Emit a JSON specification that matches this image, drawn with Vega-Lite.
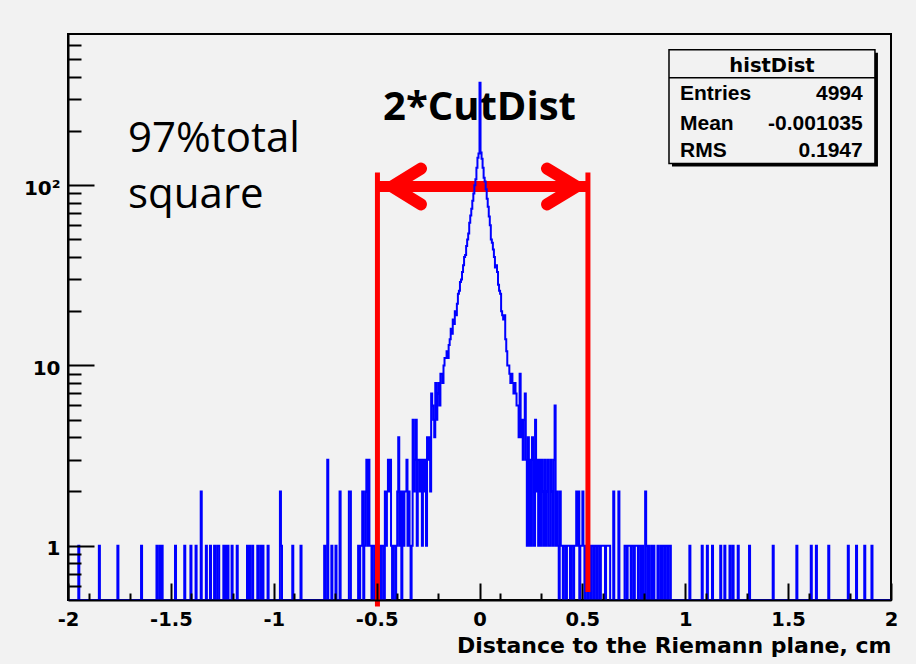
{
  "$schema": "https://vega.github.io/schema/vega-lite/v6.json",
  "width": 823,
  "height": 566,
  "autosize": {"type": "none"},
  "padding": {"left": 68, "top": 34, "right": 25, "bottom": 64},
  "background": "#f2f2f2",
  "config": {"view": {"stroke": "#000000", "strokeWidth": 2}, "axis": {"grid": false, "labelOverlap": false}},
  "datasets": {
    "one": [{}],
    "hist": [
      {"x":-2,"n":0},{"x":-1.95,"n":1},{"x":-1.945,"n":0},{"x":-1.85,"n":1},{"x":-1.845,"n":0},{"x":-1.76,"n":1},{"x":-1.755,"n":0},
      {"x":-1.645,"n":1},{"x":-1.64,"n":0},{"x":-1.57,"n":1},{"x":-1.565,"n":0},{"x":-1.555,"n":1},{"x":-1.55,"n":0},{"x":-1.545,"n":1},{"x":-1.54,"n":0},
      {"x":-1.48,"n":1},{"x":-1.475,"n":0},{"x":-1.435,"n":1},{"x":-1.43,"n":0},{"x":-1.405,"n":1},{"x":-1.4,"n":0},{"x":-1.38,"n":1},{"x":-1.375,"n":0},
      {"x":-1.355,"n":2},{"x":-1.35,"n":0},{"x":-1.33,"n":1},{"x":-1.325,"n":0},{"x":-1.31,"n":1},{"x":-1.305,"n":0},{"x":-1.29,"n":1},{"x":-1.285,"n":0},
      {"x":-1.275,"n":1},{"x":-1.27,"n":1},{"x":-1.265,"n":0},{"x":-1.245,"n":1},{"x":-1.24,"n":0},{"x":-1.235,"n":1},{"x":-1.23,"n":0},{"x":-1.225,"n":1},{"x":-1.22,"n":0},
      {"x":-1.205,"n":1},{"x":-1.2,"n":0},{"x":-1.18,"n":1},{"x":-1.175,"n":0},{"x":-1.13,"n":1},{"x":-1.125,"n":0},{"x":-1.12,"n":1},{"x":-1.115,"n":0},
      {"x":-1.105,"n":1},{"x":-1.1,"n":0},{"x":-1.08,"n":1},{"x":-1.075,"n":0},{"x":-1.065,"n":1},{"x":-1.06,"n":0},{"x":-1.055,"n":1},{"x":-1.05,"n":0},
      {"x":-1.03,"n":1},{"x":-1.025,"n":0},{"x":-0.97,"n":2},{"x":-0.965,"n":1},{"x":-0.96,"n":0},{"x":-0.91,"n":1},{"x":-0.905,"n":0},{"x":-0.87,"n":1},{"x":-0.865,"n":0},
      {"x":-0.755,"n":1},{"x":-0.75,"n":0},{"x":-0.74,"n":3},{"x":-0.735,"n":0},{"x":-0.72,"n":1},{"x":-0.715,"n":0},{"x":-0.7,"n":1},{"x":-0.695,"n":0},
      {"x":-0.68,"n":2},{"x":-0.675,"n":0},{"x":-0.635,"n":2},{"x":-0.63,"n":2},{"x":-0.625,"n":0},
      {"x":-0.59,"n":1},{"x":-0.585,"n":0},{"x":-0.58,"n":1},{"x":-0.575,"n":1},{"x":-0.57,"n":2},{"x":-0.565,"n":0},{"x":-0.56,"n":1},{"x":-0.555,"n":2},
      {"x":-0.55,"n":3},{"x":-0.545,"n":1},{"x":-0.54,"n":3},{"x":-0.535,"n":1},{"x":-0.53,"n":1},{"x":-0.525,"n":0},{"x":-0.52,"n":1},{"x":-0.515,"n":1},
      {"x":-0.51,"n":0},{"x":-0.505,"n":1},{"x":-0.5,"n":1},{"x":-0.495,"n":0},{"x":-0.49,"n":1},{"x":-0.485,"n":1},{"x":-0.48,"n":0},{"x":-0.475,"n":1},
      {"x":-0.47,"n":1},{"x":-0.465,"n":0},{"x":-0.46,"n":2},{"x":-0.455,"n":1},{"x":-0.45,"n":2},{"x":-0.445,"n":3},{"x":-0.44,"n":2},{"x":-0.435,"n":3},
      {"x":-0.43,"n":1},{"x":-0.425,"n":0},{"x":-0.42,"n":1},{"x":-0.415,"n":1},{"x":-0.41,"n":0},{"x":-0.405,"n":1},{"x":-0.4,"n":2},{"x":-0.395,"n":4},
      {"x":-0.39,"n":1},{"x":-0.385,"n":2},{"x":-0.38,"n":0},{"x":-0.375,"n":2},{"x":-0.37,"n":1},{"x":-0.365,"n":2},{"x":-0.36,"n":2},{"x":-0.355,"n":3},
      {"x":-0.35,"n":1},{"x":-0.345,"n":2},{"x":-0.34,"n":1},{"x":-0.335,"n":0},{"x":-0.33,"n":1},{"x":-0.325,"n":5},{"x":-0.32,"n":2},{"x":-0.315,"n":3},
      {"x":-0.31,"n":5},{"x":-0.305,"n":1},{"x":-0.3,"n":3},{"x":-0.295,"n":3},{"x":-0.29,"n":2},{"x":-0.285,"n":3},{"x":-0.28,"n":1},{"x":-0.275,"n":3},
      {"x":-0.27,"n":2},{"x":-0.265,"n":3},{"x":-0.26,"n":1},{"x":-0.255,"n":4},{"x":-0.25,"n":3},{"x":-0.245,"n":4},{"x":-0.24,"n":2},{"x":-0.235,"n":7},
      {"x":-0.23,"n":6},{"x":-0.225,"n":5},{"x":-0.22,"n":4},{"x":-0.215,"n":8},{"x":-0.21,"n":5},{"x":-0.205,"n":7},{"x":-0.2,"n":8},{"x":-0.195,"n":6},
      {"x":-0.19,"n":9},{"x":-0.185,"n":9},{"x":-0.18,"n":8},{"x":-0.175,"n":10},{"x":-0.17,"n":11},{"x":-0.165,"n":11},{"x":-0.16,"n":12},{"x":-0.155,"n":11},
      {"x":-0.15,"n":13},{"x":-0.145,"n":14},{"x":-0.14,"n":16},{"x":-0.135,"n":15},{"x":-0.13,"n":18},{"x":-0.125,"n":17},{"x":-0.12,"n":20},{"x":-0.115,"n":19},
      {"x":-0.11,"n":22},{"x":-0.105,"n":25},{"x":-0.1,"n":26},{"x":-0.095,"n":29},{"x":-0.09,"n":30},{"x":-0.085,"n":33},{"x":-0.08,"n":36},{"x":-0.075,"n":40},
      {"x":-0.07,"n":41},{"x":-0.065,"n":46},{"x":-0.06,"n":50},{"x":-0.055,"n":54},{"x":-0.05,"n":62},{"x":-0.045,"n":68},{"x":-0.04,"n":74},{"x":-0.035,"n":82},
      {"x":-0.03,"n":90},{"x":-0.025,"n":100},{"x":-0.02,"n":108},{"x":-0.015,"n":125},{"x":-0.01,"n":142},{"x":-0.005,"n":150},
      {"x":0,"n":370},{"x":0.005,"n":152},{"x":0.01,"n":140},{"x":0.015,"n":125},{"x":0.02,"n":110},{"x":0.025,"n":105},{"x":0.03,"n":95},{"x":0.035,"n":84},
      {"x":0.04,"n":76},{"x":0.045,"n":67},{"x":0.05,"n":60},{"x":0.055,"n":50},{"x":0.06,"n":48},{"x":0.065,"n":44},{"x":0.07,"n":40},{"x":0.075,"n":35},
      {"x":0.08,"n":36},{"x":0.085,"n":33},{"x":0.09,"n":28},{"x":0.095,"n":26},{"x":0.1,"n":25},{"x":0.105,"n":20},{"x":0.11,"n":19},{"x":0.115,"n":18},
      {"x":0.12,"n":19},{"x":0.125,"n":14},{"x":0.13,"n":12},{"x":0.135,"n":10},{"x":0.14,"n":10},{"x":0.145,"n":9},{"x":0.15,"n":8},{"x":0.155,"n":9},
      {"x":0.16,"n":8},{"x":0.165,"n":7},{"x":0.17,"n":8},{"x":0.175,"n":7},{"x":0.18,"n":6},{"x":0.185,"n":6},{"x":0.19,"n":4},{"x":0.195,"n":9},
      {"x":0.2,"n":4},{"x":0.205,"n":5},{"x":0.21,"n":3},{"x":0.215,"n":5},{"x":0.22,"n":7},{"x":0.225,"n":3},{"x":0.23,"n":1},{"x":0.235,"n":4},
      {"x":0.24,"n":1},{"x":0.245,"n":3},{"x":0.25,"n":1},{"x":0.255,"n":4},{"x":0.26,"n":3},{"x":0.265,"n":1},{"x":0.27,"n":5},{"x":0.275,"n":2},
      {"x":0.28,"n":3},{"x":0.285,"n":1},{"x":0.29,"n":3},{"x":0.295,"n":1},{"x":0.3,"n":3},{"x":0.305,"n":2},{"x":0.31,"n":1},{"x":0.315,"n":3},
      {"x":0.32,"n":1},{"x":0.325,"n":2},{"x":0.33,"n":3},{"x":0.335,"n":1},{"x":0.34,"n":1},{"x":0.345,"n":3},{"x":0.35,"n":2},{"x":0.355,"n":1},
      {"x":0.36,"n":3},{"x":0.365,"n":6},{"x":0.37,"n":1},{"x":0.375,"n":2},{"x":0.38,"n":1},{"x":0.385,"n":0},{"x":0.39,"n":2},{"x":0.395,"n":1},
      {"x":0.4,"n":1},{"x":0.405,"n":0},{"x":0.41,"n":1},{"x":0.415,"n":1},{"x":0.42,"n":0},{"x":0.425,"n":1},{"x":0.43,"n":1},{"x":0.435,"n":1},
      {"x":0.44,"n":0},{"x":0.445,"n":1},{"x":0.45,"n":1},{"x":0.455,"n":0},{"x":0.46,"n":1},{"x":0.465,"n":1},{"x":0.47,"n":2},{"x":0.475,"n":1},
      {"x":0.48,"n":2},{"x":0.485,"n":0},{"x":0.49,"n":1},{"x":0.495,"n":1},{"x":0.5,"n":2},{"x":0.505,"n":1},{"x":0.51,"n":0},{"x":0.515,"n":1},
      {"x":0.52,"n":1},{"x":0.525,"n":0},{"x":0.53,"n":1},{"x":0.535,"n":1},{"x":0.54,"n":0},{"x":0.545,"n":1},{"x":0.55,"n":1},{"x":0.555,"n":0},
      {"x":0.56,"n":1},{"x":0.565,"n":1},{"x":0.57,"n":0},{"x":0.575,"n":1},{"x":0.58,"n":1},{"x":0.585,"n":0},{"x":0.59,"n":1},{"x":0.595,"n":1},
      {"x":0.6,"n":1},{"x":0.605,"n":1},{"x":0.61,"n":0},{"x":0.615,"n":1},{"x":0.62,"n":1},{"x":0.625,"n":1},{"x":0.63,"n":1},{"x":0.635,"n":0},
      {"x":0.65,"n":2},{"x":0.655,"n":0},{"x":0.675,"n":2},{"x":0.68,"n":0},{"x":0.705,"n":1},{"x":0.71,"n":1},{"x":0.715,"n":0},{"x":0.72,"n":1},
      {"x":0.725,"n":1},{"x":0.73,"n":1},{"x":0.735,"n":0},{"x":0.74,"n":1},{"x":0.745,"n":1},{"x":0.75,"n":0},{"x":0.755,"n":1},{"x":0.76,"n":1},
      {"x":0.765,"n":1},{"x":0.77,"n":0},{"x":0.775,"n":1},{"x":0.78,"n":1},{"x":0.785,"n":0},{"x":0.79,"n":1},{"x":0.795,"n":0},{"x":0.805,"n":2},
      {"x":0.81,"n":1},{"x":0.815,"n":0},{"x":0.82,"n":1},{"x":0.825,"n":0},{"x":0.835,"n":1},{"x":0.84,"n":0},{"x":0.845,"n":1},{"x":0.85,"n":0},
      {"x":0.865,"n":1},{"x":0.87,"n":0},{"x":0.88,"n":1},{"x":0.885,"n":0},{"x":0.89,"n":1},{"x":0.895,"n":1},{"x":0.9,"n":0},{"x":0.905,"n":1},
      {"x":0.91,"n":1},{"x":0.915,"n":0},{"x":0.92,"n":1},{"x":0.925,"n":1},{"x":0.93,"n":0},
      {"x":1.02,"n":1},{"x":1.025,"n":0},{"x":1.08,"n":1},{"x":1.085,"n":0},{"x":1.105,"n":1},{"x":1.11,"n":0},{"x":1.13,"n":1},{"x":1.135,"n":0},
      {"x":1.17,"n":1},{"x":1.175,"n":0},{"x":1.19,"n":1},{"x":1.195,"n":0},{"x":1.215,"n":1},{"x":1.22,"n":0},{"x":1.23,"n":1},{"x":1.235,"n":0},
      {"x":1.255,"n":1},{"x":1.26,"n":0},{"x":1.31,"n":1},{"x":1.315,"n":0},{"x":1.425,"n":1},{"x":1.43,"n":0},{"x":1.54,"n":1},{"x":1.545,"n":0},
      {"x":1.61,"n":1},{"x":1.615,"n":0},{"x":1.635,"n":1},{"x":1.64,"n":0},{"x":1.695,"n":1},{"x":1.7,"n":0},{"x":1.79,"n":1},{"x":1.795,"n":0},
      {"x":1.83,"n":1},{"x":1.835,"n":0},{"x":1.87,"n":1},{"x":1.875,"n":0},{"x":1.905,"n":1},{"x":1.91,"n":0},{"x":2,"n":0}
    ],
    "heads": [
      {"g":"L","o":1,"x":-0.2843,"y":123.7},{"g":"L","o":2,"x":-0.4253,"y":98.4},{"g":"L","o":3,"x":-0.2843,"y":78.2},
      {"g":"R","o":1,"x":0.328,"y":123.7},{"g":"R","o":2,"x":0.4719,"y":98.4},{"g":"R","o":3,"x":0.328,"y":78.2}
    ],
    "vlines": [{"x":-0.496,"y":117.6,"y2":0.46},{"x":0.527,"y":117.6,"y2":0.554}],
    "statL": [{"t":"Entries","x":0.9745,"y":298.4},{"t":"Mean","x":0.9745,"y":201.7},{"t":"RMS","x":0.9745,"y":143.7}],
    "statR": [{"t":"4994","x":1.8625,"y":298.4},{"t":"-0.001035","x":1.8625,"y":201.7},{"t":"0.1947","x":1.8625,"y":143.7}]
  },
  "layer": [
    {
      "layer": [
        {
          "data": {"name": "one"},
          "mark": {"type": "text", "font": "Open Sans", "fontSize": 42, "align": "left", "baseline": "alphabetic", "color": "#000000", "text": "97%total"},
          "encoding": {
            "x": {"datum": -1.708, "type": "quantitative", "scale": {"domain": [-2, 2], "nice": false, "zero": false}, "axis": null},
            "y": {"datum": 153.7, "type": "quantitative", "scale": {"type": "log", "domain": [0.5, 690], "nice": false}, "axis": null}
          }
        },
        {
          "data": {"name": "one"},
          "mark": {"type": "text", "font": "Open Sans", "fontSize": 42, "align": "left", "baseline": "alphabetic", "color": "#000000", "text": "square"},
          "encoding": {
            "x": {"datum": -1.708, "type": "quantitative", "scale": {"domain": [-2, 2], "nice": false, "zero": false}, "axis": null},
            "y": {"datum": 75.2, "type": "quantitative", "scale": {"type": "log", "domain": [0.5, 690], "nice": false}, "axis": null}
          }
        },
        {
          "data": {"name": "one"},
          "mark": {"type": "text", "font": "Open Sans", "fontWeight": "bold", "fontSize": 40, "align": "center", "baseline": "alphabetic", "color": "#000000", "text": "2*CutDist"},
          "encoding": {
            "x": {"datum": 0, "type": "quantitative", "scale": {"domain": [-2, 2], "nice": false, "zero": false}, "axis": null},
            "y": {"datum": 231, "type": "quantitative", "scale": {"type": "log", "domain": [0.5, 690], "nice": false}, "axis": null}
          }
        },
        {
          "data": {"name": "one"},
          "mark": {"type": "rule", "color": "#ff0000", "strokeWidth": 11, "strokeCap": "butt"},
          "encoding": {
            "x": {"datum": -0.496, "type": "quantitative", "scale": {"domain": [-2, 2], "nice": false, "zero": false}, "axis": null},
            "x2": {"datum": 0.527},
            "y": {"datum": 98.4, "type": "quantitative", "scale": {"type": "log", "domain": [0.5, 690], "nice": false}, "axis": null}
          }
        },
        {
          "data": {"name": "heads"},
          "mark": {"type": "line", "color": "#ff0000", "strokeWidth": 12, "strokeCap": "round", "strokeJoin": "miter"},
          "encoding": {
            "x": {"field": "x", "type": "quantitative", "scale": {"domain": [-2, 2], "nice": false, "zero": false}, "axis": null},
            "y": {"field": "y", "type": "quantitative", "scale": {"type": "log", "domain": [0.5, 690], "nice": false}, "axis": null},
            "detail": {"field": "g"},
            "order": {"field": "o"}
          }
        }
      ]
    },
    {
      "data": {"name": "hist"},
      "mark": {"type": "line", "interpolate": "step-after", "color": "#0000ff", "strokeWidth": 2},
      "encoding": {
        "x": {
          "field": "x", "type": "quantitative",
          "scale": {"domain": [-2, 2], "nice": false, "zero": false},
          "axis": {
            "orient": "bottom",
            "values": [-2,-1.5,-1,-0.5,0,0.5,1,1.5,2],
            "tickSize": -17,
            "tickWidth": 2, "tickColor": "#000000",
            "domainColor": "#000000", "domainWidth": 2,
            "labelExpr": "toString(datum.value)",
            "labelPadding": 27, "labelBaseline": "top", "labelFlush": false, "labelOverlap": false,
            "labelFont": "DejaVu Sans", "labelFontWeight": "bold", "labelFontSize": 19.5, "labelColor": "#000000",
            "title": "Distance to the Riemann plane, cm",
            "titleFont": "DejaVu Sans", "titleFontWeight": "bold", "titleFontSize": 22, "titleColor": "#000000",
            "titleAnchor": "end", "titleAlign": "right", "titleBaseline": "alphabetic", "titleY": 52,
            "grid": false, "zindex": 1
          }
        },
        "y": {
          "field": "n", "type": "quantitative",
          "scale": {"type": "log", "domain": [0.5, 690], "nice": false, "clamp": true},
          "axis": {
            "values": [0.6,0.7,0.8,0.9,1,2,3,4,5,6,7,8,9,10,20,30,40,50,60,70,80,90,100,200,300,400,500,600],
            "tickSize": {"condition": {"test": "datum.value==1||datum.value==10||datum.value==100", "value": -26}, "value": -13},
            "tickWidth": 2, "tickColor": "#000000",
            "domainColor": "#000000", "domainWidth": 2,
            "labelExpr": "datum.value==1 ? '1' : datum.value==10 ? '10' : datum.value==100 ? '10²' : ''",
            "labelPadding": 34, "labelBaseline": "middle", "labelOffset": 3, "labelFlush": false, "labelOverlap": false,
            "labelFont": "DejaVu Sans", "labelFontWeight": "bold", "labelFontSize": 20, "labelColor": "#000000",
            "title": null, "grid": false, "zindex": 1
          }
        }
      }
    },
    {
      "layer": [
        {
          "data": {"name": "vlines"},
          "mark": {"type": "rule", "color": "#ff0000", "strokeWidth": 5},
          "encoding": {
            "x": {
              "field": "x", "type": "quantitative", "scale": {"domain": [-2, 2], "nice": false, "zero": false},
              "axis": {
                "orient": "bottom",
                "values": [-1.9,-1.8,-1.7,-1.6,-1.4,-1.3,-1.2,-1.1,-0.9,-0.8,-0.7,-0.6,-0.4,-0.3,-0.2,-0.1,0.1,0.2,0.3,0.4,0.6,0.7,0.8,0.9,1.1,1.2,1.3,1.4,1.6,1.7,1.8,1.9],
                "tickSize": -7, "tickWidth": 2, "tickColor": "#000000",
                "domain": false, "labels": false, "title": null, "grid": false, "zindex": 1
              }
            },
            "y": {"field": "y", "type": "quantitative", "scale": {"type": "log", "domain": [0.5, 690], "nice": false}, "axis": null},
            "y2": {"field": "y2"}
          }
        },
        {
          "data": {"name": "one"},
          "mark": {"type": "rect", "color": "#000000", "xOffset": 3, "x2Offset": 3, "yOffset": 3, "y2Offset": 3},
          "encoding": {
            "x": {"datum": 0.921, "type": "quantitative", "scale": {"domain": [-2, 2], "nice": false, "zero": false}},
            "x2": {"datum": 1.922},
            "y": {"datum": 565, "type": "quantitative", "scale": {"type": "log", "domain": [0.5, 690], "nice": false}, "axis": null},
            "y2": {"datum": 131.9}
          }
        },
        {
          "data": {"name": "one"},
          "mark": {"type": "rect", "fill": "#f2f2f2", "stroke": "#000000", "strokeWidth": 1.5},
          "encoding": {
            "x": {"datum": 0.921, "type": "quantitative", "scale": {"domain": [-2, 2], "nice": false, "zero": false}},
            "x2": {"datum": 1.922},
            "y": {"datum": 565, "type": "quantitative", "scale": {"type": "log", "domain": [0.5, 690], "nice": false}, "axis": null},
            "y2": {"datum": 131.9}
          }
        },
        {
          "data": {"name": "one"},
          "mark": {"type": "rule", "color": "#000000", "strokeWidth": 1.5},
          "encoding": {
            "x": {"datum": 0.921, "type": "quantitative", "scale": {"domain": [-2, 2], "nice": false, "zero": false}},
            "x2": {"datum": 1.922},
            "y": {"datum": 395, "type": "quantitative", "scale": {"type": "log", "domain": [0.5, 690], "nice": false}, "axis": null}
          }
        },
        {
          "data": {"name": "one"},
          "mark": {"type": "text", "font": "DejaVu Sans", "fontWeight": "bold", "fontSize": 19.5, "align": "center", "baseline": "alphabetic", "color": "#000000", "text": "histDist"},
          "encoding": {
            "x": {"datum": 1.4216, "type": "quantitative", "scale": {"domain": [-2, 2], "nice": false, "zero": false}},
            "y": {"datum": 426.6, "type": "quantitative", "scale": {"type": "log", "domain": [0.5, 690], "nice": false}, "axis": null}
          }
        },
        {
          "data": {"name": "statL"},
          "mark": {"type": "text", "font": "Liberation Sans", "fontWeight": "bold", "fontSize": 21, "align": "left", "baseline": "alphabetic", "color": "#000000"},
          "encoding": {
            "x": {"field": "x", "type": "quantitative", "scale": {"domain": [-2, 2], "nice": false, "zero": false}},
            "y": {"field": "y", "type": "quantitative", "scale": {"type": "log", "domain": [0.5, 690], "nice": false}, "axis": null},
            "text": {"field": "t"}
          }
        },
        {
          "data": {"name": "statR"},
          "mark": {"type": "text", "font": "Liberation Sans", "fontWeight": "bold", "fontSize": 21, "align": "right", "baseline": "alphabetic", "color": "#000000"},
          "encoding": {
            "x": {"field": "x", "type": "quantitative", "scale": {"domain": [-2, 2], "nice": false, "zero": false}},
            "y": {"field": "y", "type": "quantitative", "scale": {"type": "log", "domain": [0.5, 690], "nice": false}, "axis": null},
            "text": {"field": "t"}
          }
        }
      ]
    }
  ],
  "resolve": {"scale": {"y": "independent"}, "axis": {"x": "independent"}}
}
